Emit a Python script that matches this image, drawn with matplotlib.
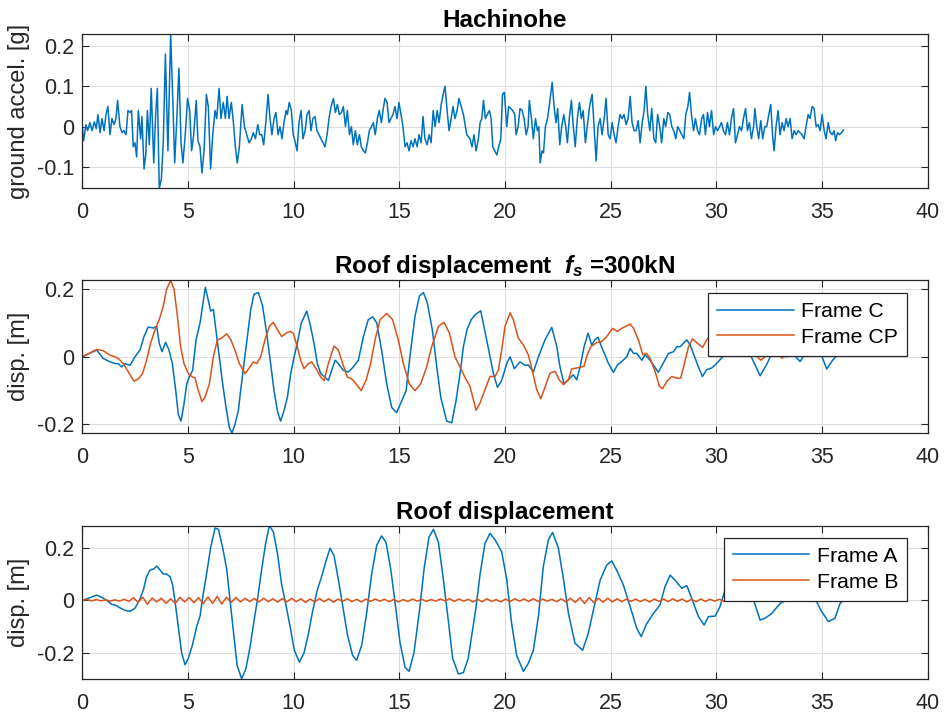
import numpy as np
import matplotlib
matplotlib.use('Agg')
import matplotlib.pyplot as plt

# ground acceleration record (t [s], a [g])
hachinohe = [
    (0, 0), (0.06, -0.035), (0.17, 0.005), (0.25, -0.01), (0.36, 0.01), (0.46, -0.01), (0.57, 0.012),
    (0.66, -0.005), (0.74, 0.03), (0.84, -0.015), (0.93, 0.02), (1.03, -0.01), (1.12, 0.03), (1.21, 0.05),
    (1.31, -0.02), (1.40, 0.02), (1.50, 0.005), (1.59, 0.02), (1.67, 0.065), (1.78, 0.0), (1.88, -0.015),
    (1.97, -0.01), (2.07, -0.02), (2.16, 0.04), (2.26, 0.035), (2.33, 0.04), (2.41, -0.05), (2.49, -0.04),
    (2.57, -0.075), (2.65, 0.04), (2.76, -0.03), (2.82, 0.025), (2.92, -0.105), (3.00, -0.07), (3.08, 0.04),
    (3.17, -0.045), (3.26, 0.095), (3.38, -0.09), (3.47, 0.03), (3.55, 0.095), (3.64, -0.153), (3.74, -0.13),
    (3.83, -0.04), (3.93, 0.18), (4.05, -0.06), (4.18, 0.229), (4.29, 0.05), (4.37, -0.09), (4.48, 0.03),
    (4.57, 0.145), (4.67, -0.04), (4.76, -0.09), (4.87, -0.02), (4.98, 0.07), (5.08, 0.04), (5.17, -0.06),
    (5.27, -0.02), (5.39, 0.065), (5.47, -0.035), (5.57, -0.05), (5.66, -0.115), (5.76, -0.06), (5.87, 0.08),
    (5.96, 0.05), (6.07, -0.105), (6.17, -0.02), (6.28, 0.04), (6.36, 0.02), (6.47, 0.095), (6.56, 0.02),
    (6.67, 0.06), (6.77, 0.02), (6.85, 0.075), (6.94, 0.02), (7.05, 0.06), (7.15, 0.01), (7.24, -0.05),
    (7.33, -0.09), (7.43, -0.05), (7.56, 0.055), (7.67, 0.0), (7.78, -0.02), (7.89, -0.04), (8.00, -0.03),
    (8.09, -0.015), (8.19, -0.03), (8.30, 0.005), (8.39, -0.02), (8.49, -0.02), (8.58, -0.045), (8.68, 0.01),
    (8.79, 0.08), (8.88, 0.02), (8.97, -0.02), (9.07, 0.02), (9.16, 0.035), (9.26, -0.02), (9.35, 0.0),
    (9.45, -0.03), (9.54, 0.01), (9.64, 0.04), (9.70, 0.03), (9.79, 0.06), (9.89, 0.04), (9.98, -0.02),
    (10.08, -0.04), (10.16, -0.06), (10.25, 0.01), (10.35, 0.04), (10.44, -0.03), (10.54, -0.01), (10.63, 0.03),
    (10.73, 0.04), (10.82, -0.01), (10.91, 0.02), (11.01, 0.025), (11.10, -0.01), (11.20, -0.02), (11.29, -0.03),
    (11.39, -0.04), (11.48, -0.05), (11.58, -0.02), (11.67, 0.02), (11.77, 0.05), (11.88, 0.07), (11.97, 0.035),
    (12.07, 0.055), (12.16, 0.03), (12.26, 0.035), (12.35, 0.05), (12.45, 0.0), (12.54, 0.04), (12.64, -0.02),
    (12.73, 0.0), (12.82, -0.045), (12.92, -0.01), (13.01, -0.045), (13.11, -0.02), (13.20, -0.05), (13.30, -0.06),
    (13.39, -0.065), (13.49, -0.04), (13.58, -0.01), (13.68, 0.0), (13.77, 0.01), (13.86, -0.02), (13.96, 0.02),
    (14.05, 0.04), (14.15, 0.01), (14.24, 0.045), (14.32, 0.07), (14.42, 0.06), (14.51, 0.01), (14.60, 0.02),
    (14.70, 0.03), (14.79, 0.05), (14.89, 0.02), (14.98, 0.06), (15.08, 0.03), (15.17, 0.0), (15.27, -0.05),
    (15.36, -0.04), (15.46, -0.06), (15.55, -0.035), (15.65, -0.05), (15.74, -0.03), (15.84, -0.05), (15.93, -0.02),
    (16.03, -0.04), (16.12, 0.025), (16.21, -0.03), (16.31, -0.045), (16.41, -0.02), (16.50, -0.04), (16.60, 0.04),
    (16.69, 0.0), (16.79, 0.04), (16.88, 0.01), (16.98, 0.055), (17.07, 0.08), (17.16, 0.1), (17.26, 0.04),
    (17.35, -0.01), (17.45, 0.02), (17.54, 0.05), (17.63, 0.02), (17.73, 0.04), (17.82, 0.07), (18.03, 0.03),
    (18.19, -0.02), (18.34, -0.03), (18.44, -0.05), (18.53, -0.02), (18.63, -0.06), (18.74, -0.03), (18.82, 0.01),
    (18.90, 0.02), (18.98, 0.065), (19.07, 0.02), (19.16, 0.03), (19.26, 0.04), (19.34, 0.02), (19.42, -0.05),
    (19.51, -0.06), (19.61, -0.07), (19.70, -0.05), (19.80, -0.03), (19.88, 0.08), (19.97, 0.085), (20.08, 0.0),
    (20.17, 0.05), (20.27, 0.045), (20.36, 0.04), (20.46, 0.03), (20.52, -0.02), (20.62, 0.0), (20.71, 0.045),
    (20.81, 0.04), (20.90, 0.02), (21.00, -0.02), (21.09, 0.0), (21.15, 0.065), (21.25, 0.02), (21.34, -0.03),
    (21.44, 0.02), (21.53, -0.01), (21.60, 0.0), (21.66, -0.09), (21.75, -0.06), (21.82, -0.065), (21.91, 0.0),
    (22.01, 0.02), (22.10, 0.055), (22.23, 0.11), (22.32, 0.05), (22.41, 0.01), (22.49, 0.045), (22.59, -0.045),
    (22.68, 0.0), (22.78, 0.03), (22.87, 0.0), (22.95, -0.04), (23.04, 0.02), (23.14, 0.065), (23.23, 0.0),
    (23.32, -0.05), (23.42, 0.02), (23.52, 0.06), (23.61, 0.02), (23.70, 0.04), (23.80, -0.04), (23.89, 0.0),
    (24.00, 0.05), (24.12, 0.08), (24.21, 0.0), (24.31, -0.085), (24.40, 0.0), (24.50, 0.02), (24.59, -0.02),
    (24.69, 0.02), (24.78, 0.07), (24.88, -0.02), (24.97, -0.03), (25.07, 0.01), (25.16, -0.02), (25.25, -0.04),
    (25.35, 0.0), (25.44, 0.03), (25.54, 0.02), (25.63, 0.03), (25.73, 0.005), (25.82, 0.02), (25.92, 0.075),
    (26.01, 0.01), (26.11, -0.01), (26.20, -0.01), (26.30, 0.015), (26.39, -0.04), (26.49, 0.01), (26.58, 0.04),
    (26.66, 0.1), (26.75, 0.03), (26.85, -0.01), (26.94, 0.045), (27.04, -0.03), (27.13, -0.04), (27.22, 0.03),
    (27.32, 0.0), (27.41, -0.04), (27.51, 0.02), (27.60, 0.0), (27.70, 0.035), (27.79, 0.03), (27.89, 0.0),
    (27.98, -0.01), (28.08, -0.03), (28.17, 0.0), (28.27, -0.01), (28.36, -0.02), (28.46, -0.03), (28.55, 0.03),
    (28.65, 0.05), (28.73, 0.085), (28.82, 0.03), (28.92, -0.01), (29.01, 0.02), (29.11, -0.01), (29.20, -0.02),
    (29.30, 0.02), (29.39, 0.03), (29.48, -0.02), (29.58, 0.035), (29.67, 0.0), (29.77, 0.04), (29.87, -0.02),
    (29.96, 0.0), (30.05, -0.01), (30.15, 0.0), (30.24, 0.01), (30.33, -0.01), (30.43, -0.02), (30.52, 0.01),
    (30.62, -0.02), (30.71, 0.02), (30.81, 0.045), (30.90, -0.04), (31.00, -0.02), (31.09, 0.0), (31.19, -0.01),
    (31.28, 0.02), (31.38, 0.045), (31.47, -0.01), (31.56, 0.01), (31.66, -0.03), (31.76, 0.0), (31.82, 0.045),
    (31.91, 0.0), (32.00, -0.03), (32.10, 0.015), (32.19, -0.03), (32.29, 0.0), (32.38, 0.0), (32.48, 0.03),
    (32.57, 0.055), (32.67, -0.03), (32.73, -0.06), (32.82, 0.0), (32.92, 0.04), (33.01, -0.02), (33.11, 0.01),
    (33.20, -0.01), (33.30, 0.02), (33.39, 0.0), (33.49, 0.02), (33.58, -0.03), (33.68, -0.01), (33.77, -0.02),
    (33.87, -0.01), (33.96, -0.015), (34.05, -0.02), (34.15, -0.03), (34.24, 0.0), (34.34, 0.03), (34.43, 0.02),
    (34.53, 0.05), (34.62, 0.045), (34.72, 0.0), (34.81, 0.005), (34.91, -0.01), (35.00, 0.03), (35.10, -0.01),
    (35.19, -0.03), (35.29, 0.01), (35.38, -0.015), (35.48, -0.02), (35.57, -0.01), (35.64, -0.035), (35.73, -0.015),
    (35.82, -0.02), (35.92, -0.015), (36.01, -0.008),
]

# roof displacement, fs = 300kN (t [s], d [m])
frame_c = [
    (0, 0), (0.68, 0.02), (0.99, -0.005), (1.31, -0.015), (1.55, -0.02), (1.70, -0.02), (1.86, -0.03),
    (2.02, -0.02), (2.26, -0.025), (2.49, 0.0), (2.73, 0.02), (2.92, 0.06), (3.12, 0.088), (3.36, 0.085),
    (3.52, 0.09), (3.64, 0.04), (3.77, 0.015), (3.94, 0.043), (4.10, 0.02), (4.26, -0.02), (4.42, -0.1),
    (4.54, -0.17), (4.67, -0.19), (4.81, -0.14), (4.94, -0.08), (5.06, -0.06), (5.22, -0.04), (5.38, 0.05),
    (5.57, 0.1), (5.69, 0.15), (5.82, 0.205), (5.95, 0.17), (6.07, 0.135), (6.20, 0.14), (6.32, 0.08),
    (6.48, 0.0), (6.64, -0.08), (6.80, -0.15), (6.96, -0.21), (7.08, -0.225), (7.22, -0.2), (7.38, -0.16),
    (7.49, -0.1), (7.65, -0.02), (7.81, 0.06), (7.97, 0.14), (8.12, 0.185), (8.33, 0.19), (8.53, 0.15),
    (8.72, 0.07), (8.91, -0.02), (9.07, -0.1), (9.23, -0.16), (9.38, -0.19), (9.54, -0.16), (9.70, -0.12),
    (9.86, -0.05), (10.02, 0.0), (10.17, 0.04), (10.36, 0.1), (10.62, 0.135), (10.80, 0.09), (10.96, 0.04),
    (11.12, -0.02), (11.28, -0.05), (11.48, -0.06), (11.64, -0.07), (11.80, -0.04), (11.96, -0.01),
    (12.11, -0.02), (12.35, -0.04), (12.59, -0.045), (12.82, -0.03), (13.06, -0.01), (13.30, 0.06),
    (13.53, 0.11), (13.74, 0.118), (13.93, 0.1), (14.16, 0.02), (14.40, -0.08), (14.64, -0.15), (14.87, -0.165),
    (15.11, -0.13), (15.32, -0.1), (15.50, 0.0), (15.74, 0.12), (15.95, 0.18), (16.14, 0.19), (16.32, 0.16),
    (16.56, 0.08), (16.77, -0.03), (16.96, -0.12), (17.24, -0.19), (17.48, -0.195), (17.68, -0.13),
    (17.87, -0.05), (18.03, 0.03), (18.2, 0.08), (18.4, 0.11), (18.6, 0.125), (18.85, 0.136), (19.13, 0.05),
    (19.45, -0.05), (19.64, -0.09), (19.84, -0.07), (20.08, -0.02), (20.24, 0.0), (20.44, -0.035),
    (20.71, -0.015), (20.94, -0.025), (21.10, -0.024), (21.34, -0.045), (21.58, 0.0), (21.89, 0.05),
    (22.21, 0.087), (22.45, 0.03), (22.60, -0.03), (22.79, -0.08), (22.99, -0.068), (23.23, -0.053),
    (23.39, -0.068), (23.55, -0.03), (23.74, 0.03), (23.93, 0.07), (24.1, 0.035), (24.25, 0.05), (24.4, 0.058),
    (24.56, 0.03), (24.73, 0.006), (24.88, -0.018), (25.13, -0.046), (25.32, -0.024), (25.52, -0.014),
    (25.76, 0.0), (25.92, 0.025), (26.08, 0.01), (26.23, 0.01), (26.47, -0.01), (26.63, 0.006), (26.86, -0.01),
    (27.02, -0.024), (27.25, -0.046), (27.49, -0.018), (27.73, 0.01), (27.97, 0.015), (28.13, 0.03),
    (28.29, 0.03), (28.44, 0.04), (28.6, 0.05), (28.76, 0.035), (28.91, 0.01), (29.15, -0.03), (29.34, -0.058),
    (29.54, -0.038), (29.78, -0.033), (30.0, -0.02), (30.3, 0.0), (30.7, 0.03), (31.1, 0.01), (31.5, 0.02),
    (31.8, -0.02), (32.07, -0.056), (32.4, -0.02), (32.7, 0.02), (33.0, 0.01), (33.3, 0.0), (33.6, 0.01),
    (33.96, -0.014), (34.2, 0.01), (34.6, 0.02), (35.0, 0.0), (35.22, -0.036), (35.5, -0.01), (35.7, 0.005),
    (36.0, 0.01),
]

frame_cp = [
    (0, 0), (0.68, 0.022), (0.99, 0.018), (1.31, 0.005), (1.55, 0.0), (1.70, -0.005), (1.94, -0.02),
    (2.18, -0.045), (2.44, -0.072), (2.65, -0.065), (2.85, -0.05), (3.04, -0.01), (3.23, 0.04), (3.44, 0.08),
    (3.64, 0.11), (3.83, 0.15), (3.99, 0.2), (4.18, 0.226), (4.34, 0.2), (4.50, 0.12), (4.65, 0.03),
    (4.81, -0.02), (5.02, -0.05), (5.22, -0.06), (5.33, -0.062), (5.49, -0.1), (5.66, -0.132), (5.80, -0.12),
    (6.01, -0.08), (6.20, 0.0), (6.39, 0.05), (6.59, 0.055), (6.83, 0.068), (7.03, 0.05), (7.22, 0.02),
    (7.43, -0.02), (7.70, -0.05), (7.93, -0.03), (8.09, -0.015), (8.25, -0.02), (8.44, 0.0), (8.64, 0.05),
    (8.85, 0.09), (9.04, 0.102), (9.23, 0.08), (9.43, 0.06), (9.64, 0.07), (9.83, 0.075), (9.98, 0.07),
    (10.17, 0.03), (10.33, -0.01), (10.49, -0.035), (10.69, -0.02), (10.85, -0.015), (11.06, -0.035),
    (11.28, -0.06), (11.44, -0.07), (11.64, -0.02), (11.91, 0.032), (12.11, 0.02), (12.32, -0.02),
    (12.54, -0.06), (12.74, -0.065), (12.95, -0.08), (13.19, -0.1), (13.42, -0.07), (13.64, -0.02),
    (13.85, 0.05), (14.09, 0.11), (14.40, 0.128), (14.68, 0.11), (14.95, 0.05), (15.19, -0.02), (15.47, -0.08),
    (15.74, -0.1), (16.01, -0.08), (16.29, -0.03), (16.53, 0.03), (16.85, 0.09), (17.11, 0.102), (17.37, 0.07),
    (17.63, 0.0), (17.87, -0.03), (18.1, -0.06), (18.34, -0.087), (18.63, -0.158), (18.82, -0.136),
    (19.05, -0.097), (19.29, -0.058), (19.53, -0.058), (19.69, -0.038), (19.84, 0.02), (20.0, 0.09),
    (20.24, 0.13), (20.39, 0.11), (20.63, 0.055), (20.87, 0.035), (21.1, 0.006), (21.26, -0.033),
    (21.5, -0.097), (21.69, -0.124), (21.89, -0.09), (22.13, -0.048), (22.37, -0.043), (22.56, -0.068),
    (22.76, -0.082), (23.0, -0.068), (23.15, -0.036), (23.39, -0.033), (23.74, -0.028), (23.86, 0.0),
    (24.05, 0.03), (24.34, 0.042), (24.57, 0.045), (24.81, 0.06), (25.09, 0.084), (25.31, 0.075),
    (25.52, 0.084), (25.92, 0.097), (26.08, 0.084), (26.31, 0.05), (26.52, 0.006), (26.7, 0.01),
    (26.86, -0.004), (27.1, -0.043), (27.3, -0.087), (27.46, -0.094), (27.65, -0.073), (27.89, -0.058),
    (28.12, -0.063), (28.31, -0.063), (28.47, -0.024), (28.68, 0.03), (28.87, 0.053), (29.1, 0.04),
    (29.35, 0.028), (29.54, 0.05), (29.73, 0.066), (30.0, 0.07), (30.4, 0.05), (30.8, 0.03), (31.2, 0.04),
    (31.6, 0.02), (32.1, -0.01), (32.5, 0.01), (32.8, 0.02), (33.1, -0.004), (33.5, 0.015), (34.0, 0.01),
    (34.5, 0.02), (35.0, 0.015), (35.5, 0.01), (36.0, 0.005),
]

# roof displacement, frames A and B
frame_a = [
    (0, 0), (0.36, 0.01), (0.68, 0.02), (0.91, 0.012), (1.15, 0.0), (1.39, -0.015), (1.62, -0.02),
    (1.81, -0.03), (2.02, -0.038), (2.26, -0.042), (2.49, -0.03), (2.70, 0.0), (2.89, 0.04), (3.04, 0.09),
    (3.20, 0.115), (3.39, 0.12), (3.52, 0.13), (3.68, 0.115), (3.83, 0.1), (3.99, 0.1), (4.15, 0.09),
    (4.27, 0.06), (4.38, 0.0), (4.54, -0.1), (4.70, -0.2), (4.86, -0.245), (5.02, -0.22), (5.21, -0.17),
    (5.41, -0.1), (5.57, -0.06), (5.73, 0.03), (5.88, 0.1), (6.07, 0.2), (6.28, 0.275), (6.44, 0.27),
    (6.64, 0.2), (6.83, 0.12), (6.99, 0.0), (7.15, -0.12), (7.33, -0.25), (7.54, -0.298), (7.74, -0.26),
    (7.93, -0.18), (8.12, -0.08), (8.28, 0.0), (8.49, 0.12), (8.68, 0.22), (8.85, 0.284), (9.04, 0.26),
    (9.23, 0.18), (9.43, 0.06), (9.64, -0.02), (9.83, -0.1), (10.03, -0.19), (10.27, -0.235), (10.49, -0.2),
    (10.69, -0.13), (10.90, -0.04), (11.12, 0.04), (11.32, 0.09), (11.53, 0.15), (11.72, 0.198), (11.91, 0.17),
    (12.11, 0.08), (12.32, -0.02), (12.54, -0.13), (12.79, -0.21), (12.98, -0.228), (13.22, -0.17),
    (13.45, -0.05), (13.69, 0.1), (13.93, 0.21), (14.16, 0.245), (14.37, 0.22), (14.59, 0.12), (14.83, -0.03),
    (15.03, -0.16), (15.27, -0.255), (15.46, -0.27), (15.69, -0.2), (15.95, -0.04), (16.17, 0.12), (16.40, 0.24),
    (16.61, 0.27), (16.85, 0.22), (17.08, 0.08), (17.32, -0.08), (17.52, -0.22), (17.79, -0.28), (18.03, -0.275),
    (18.26, -0.22), (18.45, -0.12), (18.62, -0.03), (18.82, 0.1), (19.05, 0.216), (19.29, 0.255), (19.53, 0.23),
    (19.84, 0.185), (20.08, 0.08), (20.31, -0.087), (20.55, -0.21), (20.87, -0.27), (21.1, -0.24), (21.34, -0.19),
    (21.58, -0.06), (21.81, 0.128), (22.05, 0.23), (22.25, 0.258), (22.52, 0.2), (22.76, 0.083), (23.0, -0.05),
    (23.31, -0.163), (23.67, -0.19), (23.94, -0.125), (24.18, -0.037), (24.5, 0.077), (24.81, 0.134),
    (25.05, 0.15), (25.28, 0.115), (25.6, 0.058), (25.92, -0.024), (26.23, -0.106), (26.44, -0.138),
    (26.71, -0.088), (27.02, -0.05), (27.33, -0.018), (27.57, 0.052), (27.81, 0.096), (28.04, 0.077),
    (28.36, 0.046), (28.6, 0.056), (28.83, 0.008), (29.15, -0.062), (29.42, -0.094), (29.62, -0.062),
    (29.94, -0.06), (30.17, -0.024), (30.41, 0.04), (30.7, 0.08), (31.0, 0.085), (31.3, 0.06), (31.55, 0.02),
    (31.76, 0.0), (32.07, -0.075), (32.3, -0.068), (32.62, -0.05), (33.01, -0.012), (33.3, 0.0), (33.7, 0.01),
    (34.1, 0.01), (34.5, 0.005), (34.74, -0.005), (34.98, -0.043), (35.30, -0.081), (35.61, -0.068),
    (35.85, -0.012), (36.0, 0.0),
]

# frame B: small ripple, sampled every 0.22 s
frame_b_dt = 0.22
frame_b = [
    0.0, 0.003, -0.002, 0.003, -0.002, 0.002, -0.003, 0.002, -0.003, 0.004, -0.004,
    0.01, -0.008, 0.012, -0.015, 0.009, -0.006, 0.008, -0.011, 0.006, -0.012, 0.012, -0.006,
    0.011, -0.009, 0.01, -0.013, 0.013, -0.012, 0.015, -0.014, 0.012, -0.008, 0.011,
    -0.006, 0.008, -0.005, 0.007, -0.006, 0.008, -0.005, 0.006, -0.007, 0.007, -0.006, 0.008,
    -0.005, 0.006, -0.008, 0.005, -0.006, 0.007, -0.005, 0.006, -0.007, 0.005, -0.004, 0.006,
    -0.005, 0.004, -0.006, 0.005, -0.004, 0.005, -0.003, 0.004, -0.005, 0.004,
    -0.006, 0.003, -0.004, 0.005, -0.003, 0.004, -0.004, 0.003, -0.003, 0.005, -0.002, 0.006,
    -0.004, 0.005, -0.003, 0.004, -0.006, 0.004, -0.005, 0.006, -0.004, 0.003, -0.006, 0.005,
    -0.005, 0.006, -0.003, 0.005, -0.004, 0.006, -0.004, 0.005,
    -0.003, 0.004, -0.005, 0.006, -0.006, 0.008, -0.008, 0.01, -0.012, 0.011, -0.009, 0.008,
    -0.007, 0.008, -0.006, 0.006, -0.005, 0.005,
    -0.004, 0.005, -0.005, 0.004, -0.006, 0.005, -0.004, 0.005, -0.005, 0.006, -0.004, 0.005,
    -0.006, 0.004, -0.005, 0.005, -0.004, 0.004,
    -0.003, 0.004, -0.004, 0.003, -0.003, 0.004, -0.003, 0.003, -0.004, 0.003, -0.003, 0.003,
    -0.002, 0.003, -0.003, 0.002, -0.003, 0.003, -0.002, 0.002, -0.003, 0.002, -0.002, 0.002,
    -0.002, 0.002, -0.001,
]

BLUE = '#0072BD'
ORANGE = '#D95319'
DARK = '#262626'

plt.rcParams['font.family'] = ['Liberation Sans', 'DejaVu Sans']
plt.rcParams['axes.unicode_minus'] = False
plt.rcParams['mathtext.fontset'] = 'custom'
plt.rcParams['mathtext.it'] = 'Liberation Sans:italic:bold'
plt.rcParams['mathtext.rm'] = 'Liberation Sans:bold'


def style_axes(ax, yticks, ylim):
    ax.set_xlim(0, 40)
    ax.set_ylim(*ylim)
    ax.set_xticks(range(0, 41, 5))
    ax.set_yticks(yticks)
    ax.set_yticklabels(['0' if v == 0 else f'{v:g}' for v in yticks])
    ax.grid(True, color='#dedede', linewidth=0.8)
    ax.set_axisbelow(True)
    ax.tick_params(direction='in', length=5, width=0.8, colors=DARK, labelsize=15.5,
                   top=True, right=True, pad=6)
    ax.tick_params(axis='x', pad=10)
    for sp in ax.spines.values():
        sp.set_color(DARK)
        sp.set_linewidth(0.9)


fig = plt.figure(figsize=(9.44, 7.15), dpi=100)
left, width = 0.0872, 0.8956
ax1 = fig.add_axes([left, 0.7366, width, 0.2154])
ax2 = fig.add_axes([left, 0.3940, width, 0.2144])
ax3 = fig.add_axes([left, 0.0508, width, 0.2140])

# ground acceleration
t, g = np.array(hachinohe).T
ax1.plot(t, g, color=BLUE, lw=1.1)
style_axes(ax1, [-0.1, 0, 0.1, 0.2], (-0.153, 0.229))
ax1.set_ylabel('ground accel. [g]', fontsize=17, color=DARK, labelpad=5)
ax1.set_title('Hachinohe', fontsize=17.5, fontweight='bold', pad=5)

# roof displacement fs = 300 kN
t, d = np.array(frame_c).T
ax2.plot(t, d, color=BLUE, lw=1.1, label='Frame C')
t, d = np.array(frame_cp).T
ax2.plot(t, d, color=ORANGE, lw=1.1, label='Frame CP')
style_axes(ax2, [-0.2, 0, 0.2], (-0.226, 0.227))
ax2.set_ylabel('disp. [m]', fontsize=17, color=DARK, labelpad=5)
ax2.set_title(r'Roof displacement  $f_s$ =300kN', fontsize=17.5, fontweight='bold', pad=5)

# roof displacement frames A / B
t, d = np.array(frame_a).T
ax3.plot(t, d, color=BLUE, lw=1.1, label='Frame A')
tb = np.arange(len(frame_b)) * frame_b_dt
ax3.plot(tb, frame_b, color=ORANGE, lw=1.1, label='Frame B')
style_axes(ax3, [-0.2, 0, 0.2], (-0.298, 0.284))
ax3.set_ylabel('disp. [m]', fontsize=17, color=DARK, labelpad=5)
ax3.set_title('Roof displacement', fontsize=17.5, fontweight='bold', pad=5)

for ax, anchor in ((ax2, (0.9755, 0.915)), (ax3, (0.9755, 0.92))):
    leg = ax.legend(loc='upper right', bbox_to_anchor=anchor, borderaxespad=0,
                    fontsize=15.3, handlelength=3.6, fancybox=False, framealpha=1,
                    edgecolor=DARK, borderpad=0.42, labelspacing=0.32, handletextpad=0.35)
    leg.get_frame().set_linewidth(0.9)

fig.savefig('out.png', dpi=100)
